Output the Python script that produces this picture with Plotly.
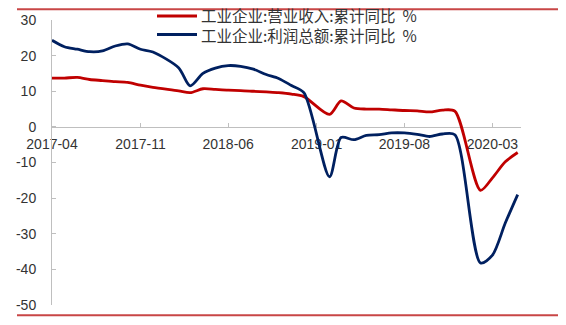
import plotly.graph_objects as go

dates = [
    "2017-04", "2017-05", "2017-06", "2017-07", "2017-08", "2017-09", "2017-10", "2017-11", "2017-12",
    "2018-02", "2018-03", "2018-04", "2018-05", "2018-06", "2018-07", "2018-08", "2018-09", "2018-10", "2018-11", "2018-12",
    "2019-02", "2019-03", "2019-04", "2019-05", "2019-06", "2019-07", "2019-08", "2019-09", "2019-10", "2019-11", "2019-12",
    "2020-02", "2020-03", "2020-04", "2020-05",
]
revenue = [
    13.7, 13.7, 13.9, 13.3, 13.0, 12.7, 12.5, 11.7, 11.1,
    10.1, 9.6, 10.7, 10.5, 10.3, 10.2, 10.0, 9.8, 9.6, 9.2, 8.5,
    3.5, 7.3, 5.3, 5.0, 5.0, 4.8, 4.6, 4.5, 4.2, 4.7, 4.4,
    -17.8, -14.3, -9.8, -7.2,
]
profit = [
    24.3, 22.5, 21.8, 21.1, 21.3, 22.7, 23.3, 21.8, 21.0,
    16.6, 11.5, 15.0, 16.5, 17.2, 17.0, 16.2, 14.7, 13.6, 11.6, 9.6,
    -14.0, -3.0, -3.6, -2.4, -2.2, -1.7, -1.7, -2.1, -2.7, -2.0, -2.2,
    -38.2, -36.0, -27.0, -19.0,
]
series_names = ["工业企业:营业收入:累计同比  %", "工业企业:利润总额:累计同比  %"]
series_colors = ["#C00000", "#002060"]
x_ticks = ["2017-04", "2017-11", "2018-06", "2019-01", "2019-08", "2020-03"]
y_ticks = [30, 20, 10, 0, -10, -20, -30, -40, -50]

W, H = 566, 325
L, R, T, B = 52, 45, 16, 15
pw, ph = W - L - R, H - T - B

def px(x):
    return (x - L) / pw

def py(y):
    return (H - B - y) / ph

dates_full = [d + "-01" for d in dates]

fig = go.Figure()
for vals, name, col in zip([revenue, profit], series_names, series_colors):
    fig.add_trace(go.Scatter(
        x=dates_full, y=vals, mode="lines", name=name,
        line=dict(color=col, width=2.8, shape="spline", smoothing=0.8),
        showlegend=False, hoverinfo="skip",
    ))

shapes = []
annotations = []
# custom legend (one text block, two rows)
row_y = [12, 31]
for yy, col in zip(row_y, series_colors):
    shapes.append(dict(type="line", xref="paper", yref="paper",
                       x0=px(157), x1=px(197), y0=py(yy), y1=py(yy),
                       line=dict(color=col, width=3)))
legend_text = "<br>".join(n.replace("  ", "\u00a0\u00a0") for n in series_names)
annotations.append(dict(xref="paper", yref="paper", x=px(199), y=py(sum(row_y) / 2),
                        xanchor="left", yanchor="middle", align="left", showarrow=False,
                        text=legend_text,
                        font=dict(family="Noto Sans CJK SC", size=15.5, color="#333333")))
# decorative frame lines
for yy in (5, 320.5):
    shapes.append(dict(type="line", xref="paper", yref="paper",
                       x0=px(17), x1=px(558), y0=py(yy), y1=py(yy),
                       line=dict(color="#C84646", width=2)))

fig.update_layout(
    width=W, height=H,
    margin=dict(l=L, r=R, t=T, b=B),
    paper_bgcolor="white", plot_bgcolor="white",
    shapes=shapes, annotations=annotations,
    showlegend=False,
    xaxis=dict(
        type="date",
        range=["2017-04-01", "2020-05-09"],
        tickvals=[d + "-01" for d in x_ticks],
        ticktext=x_ticks,
        anchor="free", position=0.625,
        showline=True, linecolor="#BFBFBF", linewidth=1,
        ticks="inside", ticklen=4, tickcolor="#BFBFBF",
        showgrid=False, zeroline=False,
        tickfont=dict(family="Liberation Sans, Arial", size=14, color="#333333"),
        ticklabelstandoff=4,
        layer="below traces",
    ),
    yaxis=dict(
        range=[-50, 30],
        tickvals=y_ticks,
        ticktext=[str(v) for v in y_ticks],
        showline=True, linecolor="#BFBFBF", linewidth=1,
        ticks="inside", ticklen=4, tickcolor="#BFBFBF",
        showgrid=False, zeroline=False,
        tickfont=dict(family="Liberation Sans, Arial", size=14, color="#333333"),
        ticklabelstandoff=12,
    ),
)

fig.write_html("out.html")
